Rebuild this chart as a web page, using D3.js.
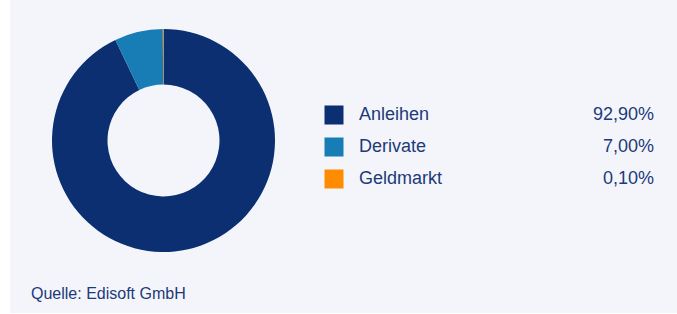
<!DOCTYPE html>
<html>
<head>
<meta charset="utf-8">
<script src="https://cdn.jsdelivr.net/npm/d3@7"></script>
<style>
  html, body { margin: 0; padding: 0; background: #fff; }
  svg { display: block; font-family: "Liberation Sans", Arial, sans-serif; }
</style>
</head>
<body>
<div id="chart"></div>
<script>
// Asset allocation (Anteile in %)
const categories = ["Anleihen", "Derivate", "Geldmarkt"];
const values = [92.9, 7.0, 0.1];
const source = "Quelle: Edisoft GmbH";

const width = 677;
const height = 314;
const textColor = "#1c3a78";

const de = d3.formatLocale({ decimal: ",", thousands: ".", grouping: [3], currency: ["", " €"] });
const fmt = de.format(".2f");

const color = d3.scaleOrdinal().domain(categories).range(["#0b2f70", "#177db4", "#ff8c00"]);

const svg = d3.select("#chart").append("svg").attr("width", width).attr("height", height);

// panel background
svg.append("rect").attr("x", 10).attr("y", 0).attr("width", width - 10).attr("height", 313).attr("fill", "#f4f5fb");

const data = categories.map((c, i) => ({ name: c, value: values[i] }));

const pie = d3.pie().sort(null).value((d) => d.value);
const arc = d3.arc().innerRadius(56).outerRadius(111.5);

svg
  .append("g")
  .attr("transform", "translate(163.5,140.5)")
  .selectAll("path")
  .data(pie(data))
  .enter()
  .append("path")
  .attr("d", arc)
  .attr("fill", (d) => color(d.data.name));

// legend
const rowScale = d3.scaleBand().domain(categories).range([99, 195]);

const legend = svg
  .append("g")
  .selectAll("g")
  .data(data)
  .enter()
  .append("g")
  .attr("transform", (d) => `translate(0,${rowScale(d.name) + rowScale.bandwidth() / 2})`);

legend
  .append("rect")
  .attr("x", 324.5)
  .attr("y", -9.5)
  .attr("width", 19)
  .attr("height", 19)
  .attr("fill", (d) => color(d.name));

legend
  .append("text")
  .attr("x", 359)
  .attr("y", 5)
  .attr("font-size", 18)
  .attr("fill", textColor)
  .text((d) => d.name);

legend
  .append("text")
  .attr("x", 654)
  .attr("y", 5)
  .attr("font-size", 18)
  .attr("text-anchor", "end")
  .attr("fill", textColor)
  .text((d) => fmt(d.value) + "%");

svg
  .append("text")
  .attr("x", 31)
  .attr("y", 299)
  .attr("font-size", 16)
  .attr("fill", textColor)
  .text(source);
</script>
</body>
</html>
